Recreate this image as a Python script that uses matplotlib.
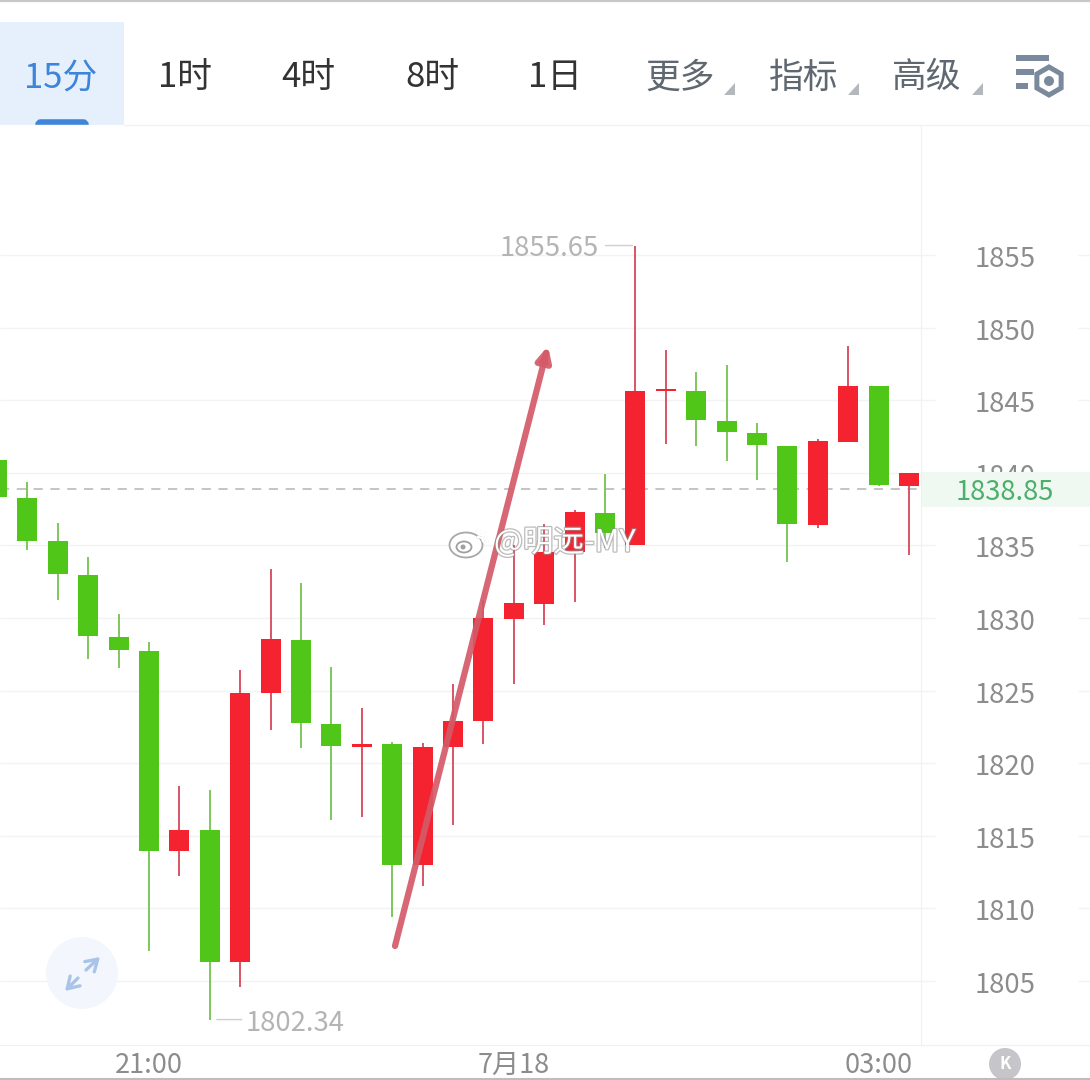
import numpy as np
import matplotlib
matplotlib.use('Agg')
import matplotlib.pyplot as plt
import matplotlib.patheffects as pe
from matplotlib.patches import Circle, Ellipse, Rectangle, FancyBboxPatch, Polygon, RegularPolygon
from matplotlib.transforms import ScaledTranslation

plt.rcParams['font.family'] = ['Noto Sans CJK SC', 'DejaVu Sans']

W, H = 1090, 1080

# candles, left to right: top and bottom of body, high and low
body_top = [1840.88, 1838.26, 1835.30, 1832.96, 1828.69, 1827.73, 1815.40, 1815.40, 1824.83, 1828.55,
            1828.48, 1822.70, 1821.32, 1821.32, 1821.12, 1822.91, 1830.00, 1831.03, 1834.55, 1837.30,
            1837.23, 1845.63, 1845.77, 1845.63, 1843.57, 1842.74, 1841.85, 1842.19, 1845.98, 1845.98,
            1839.99]
body_bot = [1838.33, 1835.30, 1833.03, 1828.76, 1827.80, 1813.95, 1813.95, 1806.31, 1806.31, 1824.83,
            1822.77, 1821.18, 1821.12, 1812.99, 1812.99, 1821.12, 1822.91, 1829.93, 1830.96, 1834.55,
            1835.85, 1835.03, 1845.63, 1843.64, 1842.81, 1841.91, 1836.47, 1836.40, 1842.12, 1839.16,
            1839.09]
high = [1841.80, 1839.37, 1836.54, 1834.20, 1830.28, 1828.35, 1818.43, 1818.15, 1826.42, 1833.37,
        1832.41, 1826.63, 1823.80, 1821.46, 1821.39, 1825.45, 1831.24, 1835.03, 1836.47, 1837.44,
        1839.92, 1855.65, 1848.46, 1846.94, 1847.42, 1843.43, 1841.85, 1842.33, 1848.73, 1845.98,
        1839.99]
low = [1838.33, 1834.68, 1831.24, 1827.18, 1826.56, 1807.07, 1812.23, 1802.34, 1804.59, 1822.29,
       1821.05, 1816.09, 1816.29, 1809.41, 1811.54, 1815.74, 1821.32, 1825.45, 1829.52, 1831.10,
       1834.82, 1835.03, 1841.98, 1841.85, 1840.81, 1839.50, 1833.86, 1836.20, 1842.12, 1839.09,
       1834.34]
is_up = [0, 0, 0, 0, 0, 0, 1, 0, 1, 1, 0, 0, 1, 0, 1, 1, 1, 1, 1, 1, 0, 1, 1, 0, 0, 0, 0, 1, 1, 0, 1]

price_ticks = [1805, 1810, 1815, 1820, 1825, 1830, 1835, 1840, 1845, 1850, 1855]
time_pos = [5, 17, 29]
time_labels = ['21:00', '7月18', '03:00']
tabs = ['15分', '1时', '4时', '8时', '1日', '更多', '指标', '高级']
last_price = 1838.85
max_price, max_idx = 1855.65, 21
min_price, min_idx = 1802.34, 7

GREEN, RED = '#50C618', '#F5222F'
WICK_G, WICK_R = '#74C44E', '#D6485A'

fig = plt.figure(figsize=(W/100, H/100), dpi=100, facecolor='white')

# chart area in pixels: x 0-921, y 125-1045
ax = fig.add_axes([0, (H-1045)/H, 921/W, 920/H])
ax.set_xlim(3/30.4, 924/30.4)
ax.set_ylim(1800.59, 1863.95)
for s in ax.spines.values():
    s.set_visible(False)
ax.spines['right'].set_visible(True)
ax.spines['right'].set_color('#F0F0F0')
ax.spines['bottom'].set_visible(True)
ax.spines['bottom'].set_color('#F0F0F0')

ax.set_yticks(price_ticks)
ax.yaxis.tick_right()
ax.tick_params(axis='y', length=0, pad=60.5, labelsize=19.8, labelcolor='#8C8C8C')
nudge = ScaledTranslation(0, -1.5/100, fig.dpi_scale_trans)
for lab in ax.get_yticklabels():
    lab.set_ha('center')
    lab.set_transform(lab.get_transform() + nudge)
ax.set_xticks(time_pos)
ax.set_xticklabels(time_labels)
ax.tick_params(axis='x', length=0, pad=4.7, labelsize=19.5, labelcolor='#8C8C8C')

# grid, running a bit past the axis on the right
ytr = ax.get_yaxis_transform()
ax.hlines(price_ticks, 0, 935/921, transform=ytr, color='#F3F3F3', lw=1, clip_on=False, zorder=1)
ax.hlines(price_ticks, 1078/921, W/921, transform=ytr, color='#F3F3F3', lw=1, clip_on=False, zorder=1)

idx = np.arange(len(body_top))
top = np.array(body_top)
bot = np.array(body_bot)
up = np.array(is_up, dtype=bool)
ax.vlines(idx[up], np.array(low)[up], np.array(high)[up], color=WICK_R, lw=1.3, zorder=3)
ax.vlines(idx[~up], np.array(low)[~up], np.array(high)[~up], color=WICK_G, lw=1.3, zorder=3)
ax.bar(idx[up], (top-bot)[up], bottom=bot[up], width=0.66, color=RED, zorder=4)
ax.bar(idx[~up], (top-bot)[~up], bottom=bot[~up], width=0.66, color=GREEN, zorder=4)

ax.axhline(last_price, color='#B4B4B4', lw=1.1, dashes=(6, 5), zorder=2)

# high and low callouts
ax.annotate('', xy=(max_idx, max_price), xytext=(-30, 0), textcoords='offset pixels',
            arrowprops=dict(arrowstyle='-', color='#CFCFCF', lw=1, shrinkA=0, shrinkB=2))
ax.annotate(f'{max_price:.2f}', xy=(max_idx, max_price), xytext=(-37, -3), textcoords='offset pixels',
            ha='right', va='center', fontsize=19.8, color='#B4B4B4')
ax.annotate('', xy=(min_idx, min_price), xytext=(32, 0), textcoords='offset pixels',
            arrowprops=dict(arrowstyle='-', color='#CFCFCF', lw=1, shrinkA=0, shrinkB=5))
ax.annotate(f'{min_price:.2f}', xy=(min_idx, min_price), xytext=(36, -4), textcoords='offset pixels',
            ha='left', va='center', fontsize=19.8, color='#B4B4B4')

# everything that is app chrome lives on an overlay in pixel coordinates
ui = fig.add_axes([0, 0, 1, 1], zorder=5)
ui.set_xlim(0, W)
ui.set_ylim(H, 0)
ui.axis('off')
ui.patch.set_alpha(0)

ui.plot([0, W], [0.8, 0.8], color='#C8C8C8', lw=1.6)
ui.plot([0, W], [1078.5, 1078.5], color='#BDBDBD', lw=1.5)
ui.plot([0, W], [125, 125], color='#F2F2F2', lw=1)
ui.plot([921, W], [1045, 1045], color='#F2F2F2', lw=1)

ui.add_patch(Rectangle((0, 22), 124, 103, color='#E6F0FC', lw=0))
ui.add_patch(FancyBboxPatch((38, 122), 48, 6, boxstyle='round,pad=0,rounding_size=3',
                            fc='#3F86DB', ec='#3F86DB', lw=4, clip_on=True))
ui.add_patch(Rectangle((0, 125), 124, 8, color='white', lw=0, zorder=3))

tab_x = [61, 185, 308, 432, 555, 680, 804, 927]
tab_col = ['#3D85D8', '#333333', '#333333', '#333333', '#333333', '#5F6770', '#5F6770', '#5F6770']
for name, tx, col in zip(tabs, tab_x, tab_col):
    ui.text(tx, 78, name, ha='center', va='center', fontsize=25, color=col)
for tx in [735, 859, 983]:
    ui.add_patch(Polygon([(tx, 83), (tx, 95), (tx-11, 95)], color='#B4B8BC', lw=0))

# settings icon
ui.add_patch(Rectangle((1016, 55), 33, 6, color='#7A8A9C', lw=0))
ui.add_patch(Rectangle((1016, 69), 18, 6, color='#7A8A9C', lw=0))
ui.add_patch(Rectangle((1016, 83), 12, 6, color='#7A8A9C', lw=0))
ui.add_patch(RegularPolygon((1049, 81), 6, radius=14, fc='white', ec='#7A8A9C', lw=3.6))
ui.add_patch(Circle((1049, 81), 5, color='#7A8A9C', lw=0))

# last price band, hides the lower part of the 1840 label
ui.add_patch(Rectangle((922, 472), W-922, 35, color='#EFF8F1', lw=0))
ui.text(1005, 493, f'{last_price:.2f}', ha='center', va='center', fontsize=19.6, color='#4CAF6A')

# expand button
ui.add_patch(Circle((82, 973), 36, color='#F3F7FD', lw=0))
for x0, y0, x1, y1 in [(86, 970, 100, 957), (78, 978, 65, 991)]:
    ui.annotate('', xy=(x1, y1), xytext=(x0, y0),
                arrowprops=dict(arrowstyle='->,head_length=0.8,head_width=0.5', color='#A9C4E8', lw=2.4,
                                shrinkA=0, shrinkB=0))

# jump-to-latest button
ui.add_patch(Circle((1005, 1064), 16, color='#C6C6CA', lw=0))
ui.text(1005, 1064, 'K', ha='center', va='center', fontsize=12, color='white', fontweight='bold')

# hand drawn arrow
ui.annotate('', xy=(548, 346), xytext=(395, 946),
            arrowprops=dict(arrowstyle='-|>,head_length=0.85,head_width=0.42', color='#D45A68', lw=4.5,
                            shrinkA=0, shrinkB=0, alpha=0.92, capstyle='round'))

# watermark
halo = [pe.withStroke(linewidth=1.8, foreground='#8F8F8F', alpha=0.6)]
ui.text(494, 543, '@明远-MY', ha='left', va='center', fontsize=22, color='white', path_effects=halo)
ui.add_patch(Ellipse((466, 545), 33, 25, fc='white', ec='#A8A8A8', lw=1.3))
ui.add_patch(Ellipse((464, 547), 15, 11, fc='white', ec='#A0A0A0', lw=1.3))
ui.add_patch(Circle((463, 547), 2.5, color='#A0A0A0', lw=0))
ui.plot([477, 485, 487], [531, 533, 541], color='white', lw=2.2, path_effects=halo)
ui.plot([478, 482, 483], [537, 538, 541], color='white', lw=1.8, path_effects=halo)

fig.savefig('out.png', dpi=100)
